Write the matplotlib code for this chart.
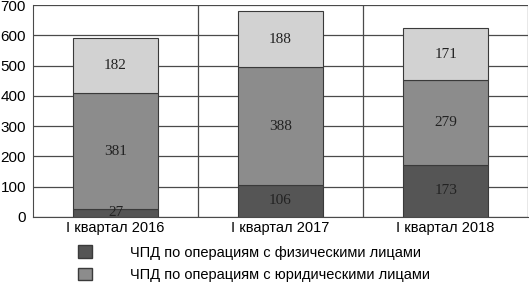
import numpy as np
import matplotlib
matplotlib.use("Agg")
import matplotlib.pyplot as plt
from matplotlib.patches import Patch

# ── Data ──────────────────────────────────────────────────────────────────────
categories = ["I квартал 2016", "I квартал 2017", "I квартал 2018"]
phys  = [27, 106, 173]     # ЧПД по операциям с физическими лицами
legal = [381, 388, 279]    # ЧПД по операциям с юридическими лицами
other = [182, 188, 171]    # третий сегмент (без подписи в легенде)
legend_labels = ["ЧПД по операциям с физическими лицами",
                 "ЧПД по операциям с юридическими лицами"]

# ── Colours ───────────────────────────────────────────────────────────────────
C_PHYS  = "#555555"
C_LEGAL = "#8c8c8c"
C_OTHER = "#d2d2d2"
C_EDGE  = "#3a3a3a"
C_GRID  = "#4a4a4a"

SANS  = ["Liberation Sans", "DejaVu Sans"]
SERIF = ["Liberation Serif", "DejaVu Serif"]

fig = plt.figure(figsize=(5.29, 2.84), dpi=100)
ax = fig.add_axes([0.0624, 0.236, 0.936, 0.746])

x = np.arange(len(categories))
w = 0.515
bottoms = np.zeros(len(categories))
for vals, col in ((phys, C_PHYS), (legal, C_LEGAL), (other, C_OTHER)):
    ax.bar(x, vals, w, bottom=bottoms, color=col,
           edgecolor=C_EDGE, linewidth=0.8, zorder=3)
    for xi, b, v in zip(x, bottoms, vals):
        ax.text(xi, b + v / 2, str(v), ha="center", va="center",
                fontsize=11, family=SERIF, color="#222222", zorder=4)
    bottoms = bottoms + np.array(vals)

ax.set_xlim(-0.5, 2.5)
ax.set_ylim(0, 700)
ax.set_yticks(range(0, 701, 100))
ax.set_xticks(x)
ax.set_xticklabels(categories, family=SANS, fontsize=10.5)
ax.tick_params(axis="y", length=0, pad=5, labelsize=11)
ax.tick_params(axis="x", length=0, pad=3)
for lab in ax.get_yticklabels():
    lab.set_family(SANS)

ax.yaxis.grid(True, color=C_GRID, linewidth=0.9, zorder=1)
for xv in (0.5, 1.5, 2.5):
    ax.axvline(xv, color=C_GRID, linewidth=0.9, zorder=1)
for sp in ("top", "right"):
    ax.spines[sp].set_visible(False)
ax.spines["left"].set_color(C_GRID)
ax.spines["bottom"].set_color(C_GRID)

handles = [Patch(facecolor=C_PHYS, edgecolor=C_EDGE),
           Patch(facecolor=C_LEGAL, edgecolor=C_EDGE)]
fig.legend(handles, legend_labels, loc="upper left",
           bbox_to_anchor=(0.122, 0.182), frameon=False,
           handlelength=1.0, handleheight=0.9, handletextpad=2.6,
           labelspacing=0.55, prop={"family": SANS, "size": 10.5})

fig.savefig("out.png", dpi=100)
